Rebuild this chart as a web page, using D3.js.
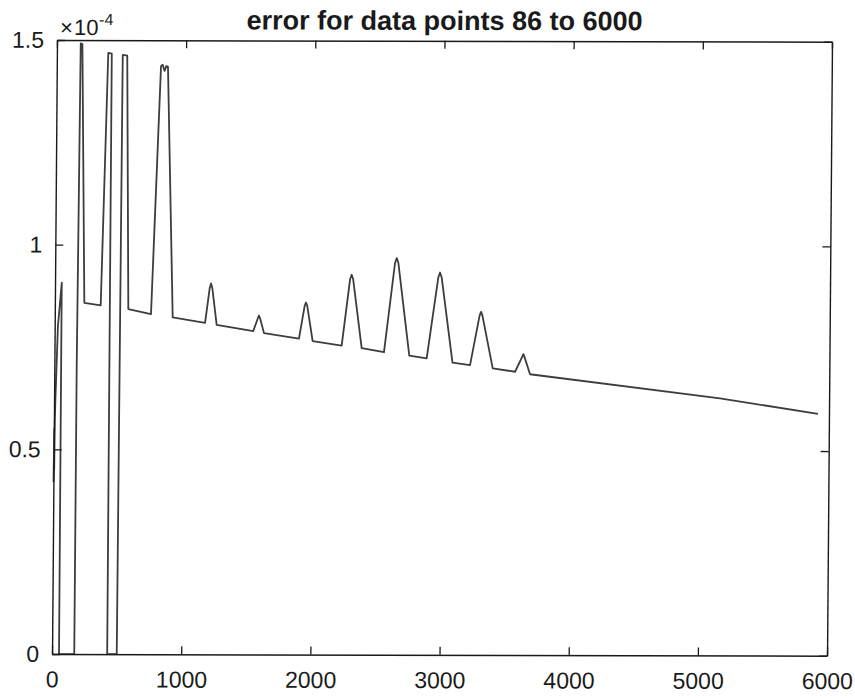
<!DOCTYPE html>
<html>
<head>
<meta charset="utf-8">
<script src="https://cdn.jsdelivr.net/npm/d3@7"></script>
<style>
  body { margin: 0; background: #fff; }
  svg { display: block; }
  text { font-family: "Liberation Sans", Arial, sans-serif; }
</style>
</head>
<body>
<svg id="chart"></svg>
<script>
// sample index along x, error in units of 1e-4 along y
const sampleIndex = [
  1, 3, 5, 7, 10, 25, 52, 54,
  172, 173, 184, 197, 228,
  355, 398, 425, 427,
  501, 510, 545, 569,
  745, 807, 820, 835, 848, 861, 913,
  1164, 1198, 1208, 1218, 1254,
  1538, 1573, 1581, 1589, 1621,
  1892, 1934, 1944, 1954, 1998,
  2223, 2284, 2296, 2308, 2378,
  2551, 2631, 2644, 2657, 2747,
  2882, 2967, 2980, 2993, 3082,
  3218, 3289, 3300, 3311, 3394,
  3567, 3622, 3630, 3638, 3683,
  5155, 5915
];
const errorE4 = [
  0.42, 0.55, 0.45, 0.57, 0.62, 0.8, 0.907, 0,
  0, 0.7, 1.492, 1.49, 0.858,
  0.852, 1.469, 1.467, 0,
  0, 1.464, 1.462, 0.843,
  0.831, 1.437, 1.44, 1.425, 1.437, 1.435, 0.823,
  0.81, 0.895, 0.906, 0.895, 0.805,
  0.79, 0.822, 0.828, 0.822, 0.785,
  0.772, 0.852, 0.86, 0.852, 0.766,
  0.755, 0.917, 0.928, 0.917, 0.749,
  0.739, 0.957, 0.969, 0.957, 0.731,
  0.724, 0.922, 0.934, 0.922, 0.714,
  0.708, 0.829, 0.838, 0.829, 0.7,
  0.692, 0.729, 0.735, 0.729, 0.686,
  0.628, 0.591
];

const xTicks = [0, 1000, 2000, 3000, 4000, 5000, 6000];
const xTickLabels = ["0", "1000", "2000", "3000", "4000", "5000", "6000"];
const yTicks = [0, 0.5, 1, 1.5];
const yTickLabels = ["0", "0.5", "1", "1.5"];
const titleText = "error for data points 86 to 6000";

const width = 855;
const height = 698;
const plotW = 775;
const plotH = 614;
const tickLen = 8;
const ink = "#1a1a1a";
const fontFamily = '"Liberation Sans", Arial, sans-serif';

const svg = d3.select("#chart").attr("width", width).attr("height", height);
svg.append("rect").attr("width", width).attr("height", height).attr("fill", "#fff");

// the reference is a slightly sheared scan, so the axes box gets the same small shear
const g = svg.append("g").attr("transform", "matrix(1,0.0022,-0.0081,1,57,40)");

const x = d3.scaleLinear().domain([0, 6000]).range([0, plotW]);
const y = d3.scaleLinear().domain([0, 1.5]).range([plotH, 0]);

const data = sampleIndex.map((d, i) => ({ x: d, y: errorE4[i] }));

// error curve
const line = d3.line().x((d) => x(d.x)).y((d) => y(d.y));
g.append("path")
  .datum(data)
  .attr("d", line)
  .attr("fill", "none")
  .attr("stroke", "#3d3d3d")
  .attr("stroke-width", 1.8)
  .attr("stroke-linejoin", "round");

// axes, matlab style: box with inward ticks on all four sides
function styleAxis(sel) {
  sel.attr("font-size", 23).attr("font-family", fontFamily).attr("color", ink);
  sel.select(".domain").attr("stroke-width", 1.4);
  sel.selectAll(".tick line").attr("stroke-width", 1.3);
}

g.append("g")
  .attr("transform", `translate(0,${plotH})`)
  .call(
    d3.axisBottom(x)
      .tickValues(xTicks)
      .tickFormat((d, i) => xTickLabels[i])
      .tickSizeInner(-tickLen)
      .tickSizeOuter(0)
      .tickPadding(17)
  )
  .call(styleAxis);

g.append("g")
  .call(d3.axisTop(x).tickValues(xTicks).tickSizeInner(-tickLen).tickSizeOuter(0).tickFormat(""))
  .call(styleAxis);

g.append("g")
  .call(
    d3.axisLeft(y)
      .tickValues(yTicks)
      .tickFormat((d, i) => yTickLabels[i])
      .tickSizeInner(-tickLen)
      .tickSizeOuter(0)
      .tickPadding(13)
  )
  .call(styleAxis);

g.append("g")
  .attr("transform", `translate(${plotW},0)`)
  .call(d3.axisRight(y).tickValues(yTicks).tickSizeInner(-tickLen).tickSizeOuter(0).tickFormat(""))
  .call(styleAxis);

// exponent label, built from separate pieces so each size is explicit
const expoParts = [
  { text: "\u00d7", x: 3, y: -5, size: 22 },
  { text: "10", x: 17, y: -5, size: 22 },
  { text: "-4", x: 42, y: -15, size: 16 }
];
g.selectAll("text.expo")
  .data(expoParts)
  .enter()
  .append("text")
  .attr("class", "expo")
  .attr("x", (d) => d.x)
  .attr("y", (d) => d.y)
  .attr("font-family", fontFamily)
  .attr("font-size", (d) => d.size)
  .attr("fill", ink)
  .text((d) => d.text);

// title
g.append("text")
  .attr("x", plotW / 2)
  .attr("y", -11)
  .attr("text-anchor", "middle")
  .attr("font-family", fontFamily)
  .attr("font-size", 27)
  .attr("font-weight", "bold")
  .attr("fill", ink)
  .text(titleText);
</script>
</body>
</html>
